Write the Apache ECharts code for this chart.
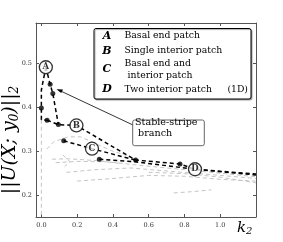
<!DOCTYPE html>
<html><head><meta charset="utf-8">
<script src="https://cdn.jsdelivr.net/npm/echarts@6/dist/echarts.min.js"></script>
<style>html,body{margin:0;padding:0;background:#fff}#c{width:283px;height:242px}</style>
</head><body><div id="c"></div>
<script>
const xTicks = [0, 0.2, 0.4, 0.6, 0.8, 1.0];
const yTicks = [0.2, 0.3, 0.4, 0.5];
const branchA = [[0.025,0.492],[0.049,0.453],[0.064,0.432],[0.095,0.361]];
const branchA0 = [[0.025,0.492],[0.0,0.44],[0.0,0.399],[0.0,0.372],[0.032,0.371]];
const branchB = [[0.032,0.371],[0.095,0.361],[0.196,0.359],[0.527,0.280],[0.775,0.271],[0.859,0.259],[1.2,0.248]];
const branchC = [[0.125,0.324],[0.283,0.306],[0.527,0.280]];
const branchD = [[0.324,0.282],[0.527,0.276],[0.859,0.259],[1.2,0.246]];
const dots = [[0,0.399],[0.049,0.453],[0.064,0.432],[0.095,0.361],[0.032,0.371],[0.125,0.324],[0.324,0.282],[0.527,0.280],[0.775,0.271]];
const labelNames = ['A','B','C','D'];
const labelPts = [[0.025,0.492],[0.196,0.359],[0.283,0.306],[0.859,0.259]];
const grayLines = [
  [[0,0.372],[0,0.15]],
  [[0.03,0.305],[0.07,0.322],[0.15,0.333],[0.22,0.333],[0.3,0.318],[0.4,0.300],[0.5,0.288]],
  [[0.06,0.282],[0.15,0.283],[0.3,0.279],[0.45,0.272]],
  [[0.08,0.274],[0.2,0.277],[0.37,0.276],[0.55,0.268],[0.8,0.258],[1.2,0.242]],
  [[0.14,0.252],[0.3,0.258],[0.5,0.262],[0.7,0.255],[1.0,0.245],[1.2,0.238]],
  [[0.2,0.232],[0.4,0.238],[0.6,0.245],[0.8,0.243],[1.0,0.236],[1.2,0.232]],
  [[0.6,0.252],[0.8,0.249],[1.0,0.241],[1.2,0.228]],
  [[0.74,0.205],[0.85,0.208],[0.95,0.212]],
  [[0.12,0.292],[0.16,0.276],[0.13,0.265]]
];
const legendRows = [['A','Basal end patch'],['B','Single interior patch'],['C','Basal end and\n interior patch'],['D','Two interior patch']];

const chart = echarts.init(document.getElementById('c'));
const serif = 'DejaVu Serif';
const series = [];
grayLines.forEach(g => series.push({type:'line', data:g, symbol:'none', silent:true,
  lineStyle:{color:'#c4c4c4', width:1, type:[4,3]}, z:1}));
[branchA0, branchA, branchB, branchC, branchD].forEach(b => series.push({type:'line', data:b, symbol:'none',
  lineStyle:{color:'#000', width:1.5, type:[4,3]}, z:3}));
series.push({type:'scatter', data:dots, symbolSize:5, itemStyle:{color:'#000'}, z:4});
series.push({type:'scatter', data:labelPts.map((p,i)=>({value:p, name:labelNames[i]})), symbolSize:13,
  itemStyle:{color:'#fff', borderColor:'#000', borderWidth:1.3}, z:5,
  label:{show:true, position:'inside', formatter:p=>p.name, fontFamily:serif, fontSize:8.5, fontWeight:'bold', color:'#000'}});

const legendChildren = [{type:'rect', shape:{x:0,y:0,width:157,height:70.5,r:2},
  style:{fill:'#fff', stroke:'#000', lineWidth:1, shadowColor:'rgba(0,0,0,0.35)', shadowOffsetX:1, shadowOffsetY:1, shadowBlur:1}}];
const rowY = [7.5, 22.5, 41, 61];
legendRows.forEach((r,i)=>{
  legendChildren.push({type:'text', x:13, y:rowY[i], style:{text:r[0], font:'italic bold 11px "DejaVu Serif"', fill:'#000', align:'center', verticalAlign:'middle'}});
  legendChildren.push({type:'text', x:30.5, y:rowY[i], style:{text:r[1], font:'9.3px "DejaVu Serif"', fill:'#000', align:'left', verticalAlign:'middle', lineHeight:12}});
});
legendChildren.push({type:'text', x:154, y:61, style:{text:'(1D)', font:'9.3px "DejaVu Serif"', fill:'#000', align:'right', verticalAlign:'middle'}});

chart.setOption({
  animation:false,
  grid:{left:36, right:27, top:23, bottom:25, outerBoundsMode:'none', containLabel:false},
  xAxis:[{type:'value', min:-0.03, max:1.2, position:'bottom',
    axisLine:{onZero:false, lineStyle:{color:'#555', width:1}},
    axisTick:{inside:true, length:3, customValues:xTicks, lineStyle:{color:'#555'}},
    axisLabel:{customValues:xTicks, formatter:v=>v.toFixed(1), fontFamily:serif, fontSize:6.5, color:'#333', margin:5},
    splitLine:{show:false}},
   {type:'value', min:-0.03, max:1.2, position:'top',
    axisLine:{onZero:false, lineStyle:{color:'#555', width:1}},
    axisTick:{inside:true, length:3, customValues:xTicks, lineStyle:{color:'#555'}},
    axisLabel:{show:false}, splitLine:{show:false}}],
  yAxis:[{type:'value', min:0.15, max:0.593, position:'left',
    axisLine:{show:true, onZero:false, lineStyle:{color:'#555', width:1}},
    axisTick:{show:true, inside:true, length:3, customValues:yTicks, lineStyle:{color:'#555'}},
    axisLabel:{customValues:yTicks, formatter:v=>v.toFixed(1), fontFamily:serif, fontSize:6.5, color:'#333', margin:4},
    splitLine:{show:false}},
   {type:'value', min:0.15, max:0.593, position:'right',
    axisLine:{show:true, onZero:false, lineStyle:{color:'#555', width:1}},
    axisTick:{show:true, inside:true, length:3, customValues:yTicks, lineStyle:{color:'#555'}},
    axisLabel:{show:false}, splitLine:{show:false}}],
  series: series,
  graphic:[
    {type:'group', x:94, y:28.5, children:legendChildren, z:10},
    {type:'line', shape:{x1:133, y1:125, x2:58.5, y2:90}, style:{stroke:'#000', lineWidth:0.8}, z:6},
    {type:'polygon', shape:{points:[[56.5,89.2],[63,89.6],[61.2,93.1]]}, style:{fill:'#000'}, z:6},
    {type:'rect', shape:{x:132.7, y:120, width:71.6, height:25.7, r:2}, style:{fill:'#fff', stroke:'#666', lineWidth:1}, z:10},
    {type:'text', x:135, y:127.5, style:{text:'Stable-stripe\n branch', font:'9.6px "DejaVu Serif"', fill:'#000', align:'left', verticalAlign:'middle', lineHeight:11}, z:11},
    {type:'text', x:10, y:140, rotation:Math.PI/2,
      style:{text:'{n|||U(X; y}{s|0}{n|)||}{s|2}', align:'center', verticalAlign:'middle',
        rich:{n:{fontFamily:serif, fontStyle:'italic', fontSize:19, fill:'#000'},
              s:{fontFamily:serif, fontStyle:'italic', fontSize:12, fill:'#000', padding:[10,0,0,0]}}}, z:11},
    {type:'text', x:237, y:228, style:{rich:{k:{fontFamily:serif, fontStyle:'italic', fontSize:15, fill:'#000'}, s:{fontFamily:serif, fontStyle:'italic', fontSize:10, fill:'#000', padding:[7,0,0,0]}}, text:'{k|k}{s|2}', verticalAlign:'middle'}, z:11}
  ]
});
</script></body></html>
